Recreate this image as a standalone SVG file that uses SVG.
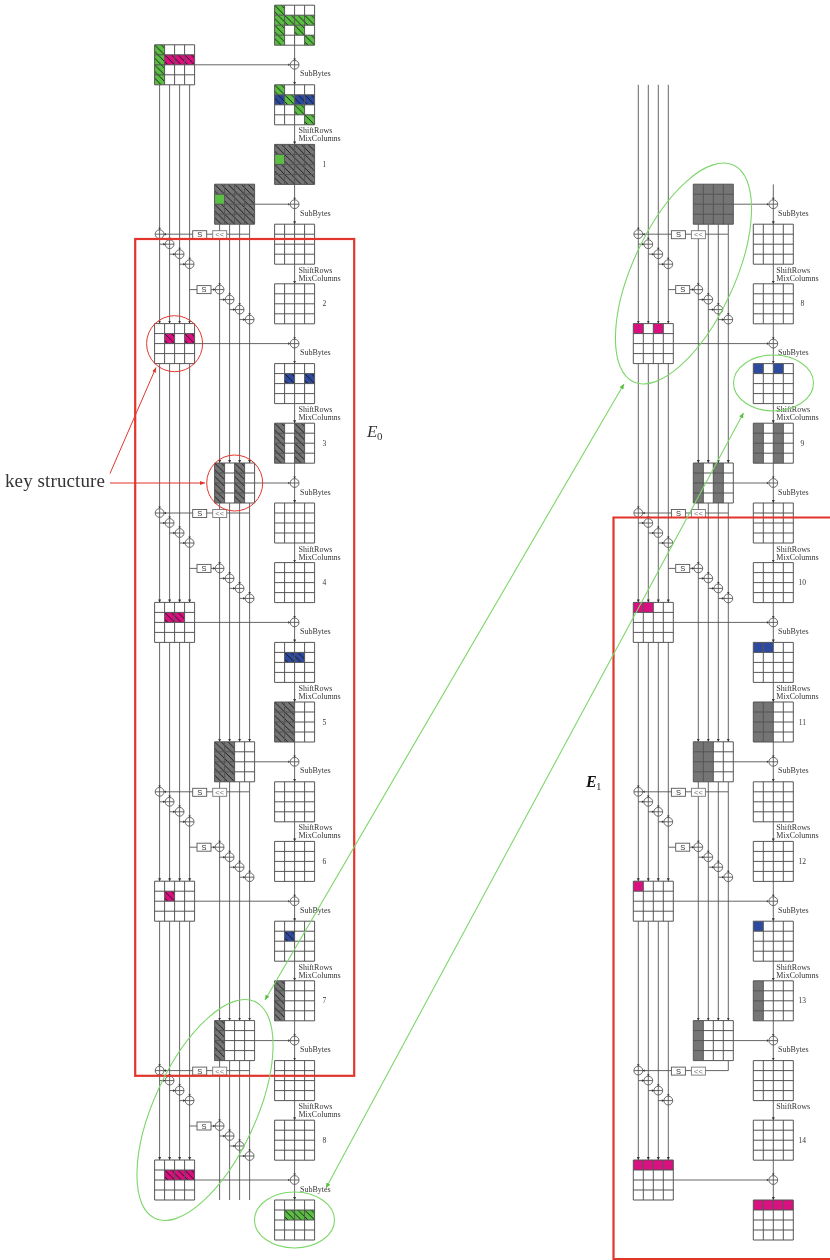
<svg xmlns="http://www.w3.org/2000/svg" width="830" height="1260" viewBox="0 0 830 1260">
<style>
text{font-family:"Liberation Serif","Times New Roman",serif;fill:#333}
.l{font-size:8px}
.n{font-size:7.5px;text-anchor:middle}
.s{font-family:"Liberation Sans",Arial,sans-serif;font-size:7.5px;text-anchor:middle}
.g{font-family:"Liberation Sans",Arial,sans-serif;font-size:7.5px;text-anchor:middle;fill:#777}
.w{fill:none;stroke:#555;stroke-width:.9}
.a{fill:none;stroke:#555;stroke-width:.9;marker-end:url(#ah)}
.ln{fill:none;stroke:#555;stroke-width:1}
.bg{fill:#fff}
rect.c{width:10px;height:10px}
.gh{fill:url(#hg)}.mh{fill:url(#hm)}.bh{fill:url(#hb)}.kh{fill:url(#hk)}
.gp{fill:#5cbd45}.mp{fill:#d9107f}.bp{fill:#2e4a9e}.kp{fill:#757575}
.rd{fill:none;stroke:#e2352b}
.gn{fill:none;stroke:#7dd66a;stroke-width:1.1}
.box{fill:#fff;stroke:#555;stroke-width:.9}
.box2{fill:#fff;stroke:#777;stroke-width:.9}
#labels,#ksall{opacity:.99}
</style>
<defs>
<marker id="ah" markerUnits="userSpaceOnUse" markerWidth="4" markerHeight="4" refX="3" refY="2" orient="auto"><path d="M0 .5L3 2L0 3.5z" fill="#333"/></marker>
<marker id="ar" markerUnits="userSpaceOnUse" markerWidth="6" markerHeight="6" refX="5" refY="3" orient="auto-start-reverse"><path d="M0 1L5 3L0 5z" fill="#e2352b"/></marker>
<marker id="ag" markerUnits="userSpaceOnUse" markerWidth="6" markerHeight="6" refX="5" refY="3" orient="auto-start-reverse"><path d="M0 .8L5 3L0 5.2z" fill="#5cbd45"/></marker>
<pattern id="hg" patternUnits="userSpaceOnUse" width="6.667" height="6.667"><rect width="6.667" height="6.667" fill="#5cbd45"/><path d="M-1 -1L7.667 7.667" stroke="#111" stroke-width=".9"/></pattern>
<pattern id="hm" patternUnits="userSpaceOnUse" width="6.667" height="6.667"><rect width="6.667" height="6.667" fill="#d9107f"/><path d="M-1 -1L7.667 7.667" stroke="#111" stroke-width=".9"/></pattern>
<pattern id="hb" patternUnits="userSpaceOnUse" width="6.667" height="6.667"><rect width="6.667" height="6.667" fill="#2e4a9e"/><path d="M-1 -1L7.667 7.667" stroke="#111" stroke-width=".9"/></pattern>
<pattern id="hk" patternUnits="userSpaceOnUse" width="6.667" height="6.667"><rect width="6.667" height="6.667" fill="#757575"/><path d="M-1 -1L7.667 7.667" stroke="#111" stroke-width=".9"/></pattern>
<rect id="bg" class="bg" width="40" height="40"/>
<path id="grid" class="ln" d="M0 0H40V40H0ZM10 0V40M20 0V40M30 0V40M0 10H40M0 20H40M0 30H40"/>
<g id="bus"><path class="a" d="M5 0V238.8"/><path class="a" d="M15 0V238.8"/><path class="a" d="M25 0V238.8"/><path class="a" d="M35 0V238.8"/></g>
<g id="xl"><circle r="4.4" fill="#fff" stroke="#444" stroke-width=".8"/><path class="w" d="M-4.4 0H4.4M0 -4.4V4.4"/><path d="M-1.3 -6.4L1.3 -6.4L0 -4.4zM-6.4 -1.3L-6.4 1.3L-4.4 0z" fill="#333"/></g>
<g id="xr"><circle r="4.4" fill="#fff" stroke="#444" stroke-width=".8"/><path class="w" d="M-4.4 0H4.4M0 -4.4V4.4"/><path d="M-1.3 -6.4L1.3 -6.4L0 -4.4zM6.4 -1.3L6.4 1.3L4.4 0z" fill="#333"/></g>
<g id="k1w"><path class="w" d="M249.6 0H163.6M159.6 10H165.6M169.6 20H175.6M179.6 30H185.6"/></g>
<g id="k2w"><path class="w" d="M189.6 0H197M211 0H215.6M219.6 10H225.6M229.6 20H235.6M239.6 30H245.6"/></g>
<g id="k1n"><use href="#xr" x="159.6" y="0"/><use href="#xl" x="169.6" y="10"/><use href="#xl" x="179.6" y="20"/><use href="#xl" x="189.6" y="30"/><rect class="box" x="192.7" y="-3.5" width="14" height="8"/><rect class="box2" x="212.7" y="-3.5" width="14" height="8"/></g>
<g id="k2n"><use href="#xl" x="219.6" y="0"/><use href="#xl" x="229.6" y="10"/><use href="#xl" x="239.6" y="20"/><use href="#xl" x="249.6" y="30"/><rect class="box" x="197" y="-4" width="14" height="8"/></g>
</defs>
<rect width="830" height="1260" fill="#fff"/>
<g id="connectors">
<use href="#bus" x="154.6" y="84.8"/><use href="#bus" x="154.6" y="363.6"/><use href="#bus" x="154.6" y="642.4"/><use href="#bus" x="154.6" y="921.2"/>
<use href="#bus" x="214.6" y="224.2"/><use href="#bus" x="214.6" y="503"/><use href="#bus" x="214.6" y="781.8"/>
<path class="w" d="M219.6 1060.6V1200M229.6 1060.6V1200M239.6 1060.6V1200M249.6 1060.6V1200"/>
<use href="#bus" x="633.3" y="84.8"/><use href="#bus" x="633.3" y="363.6"/><use href="#bus" x="633.3" y="642.4"/><use href="#bus" x="633.3" y="921.2"/>
<use href="#bus" x="693.3" y="224.2"/><use href="#bus" x="693.3" y="503"/><use href="#bus" x="693.3" y="781.8"/>
<path class="w" d="M194.6 64.8H288.6M254.6 204.2H288.6M194.6 343.6H288.6M254.6 483H288.6M194.6 622.4H288.6M254.6 761.8H288.6M194.6 901.2H288.6M254.6 1040.6H288.6M194.6 1180H288.6"/>
<path class="w" d="M733.3 204.2H767.3M673.3 343.6H767.3M733.3 483H767.3M673.3 622.4H767.3M733.3 761.8H767.3M673.3 901.2H767.3M733.3 1040.6H767.3M673.3 1180H767.3"/>
<path class="a" d="M294.6 45.2V84.8"/><path class="a" d="M294.6 124.8V144.4"/><path class="a" d="M294.6 184.4V224.2"/><path class="a" d="M294.6 264.2V283.8"/><path class="a" d="M294.6 323.8V363.6"/><path class="a" d="M294.6 403.6V423.2"/><path class="a" d="M294.6 463.2V503"/><path class="a" d="M294.6 543V562.6"/><path class="a" d="M294.6 602.6V642.4"/><path class="a" d="M294.6 682.4V702"/><path class="a" d="M294.6 742V781.8"/><path class="a" d="M294.6 821.8V841.4"/><path class="a" d="M294.6 881.4V921.2"/><path class="a" d="M294.6 961.2V980.8"/><path class="a" d="M294.6 1020.8V1060.6"/><path class="a" d="M294.6 1100.6V1120.2"/><path class="a" d="M294.6 1160.2V1200"/>
<path class="a" d="M773.3 184.4V224.2"/><path class="a" d="M773.3 264.2V283.8"/><path class="a" d="M773.3 323.8V363.6"/><path class="a" d="M773.3 403.6V423.2"/><path class="a" d="M773.3 463.2V503"/><path class="a" d="M773.3 543V562.6"/><path class="a" d="M773.3 602.6V642.4"/><path class="a" d="M773.3 682.4V702"/><path class="a" d="M773.3 742V781.8"/><path class="a" d="M773.3 821.8V841.4"/><path class="a" d="M773.3 881.4V921.2"/><path class="a" d="M773.3 961.2V980.8"/><path class="a" d="M773.3 1020.8V1060.6"/><path class="a" d="M773.3 1100.6V1120.2"/><path class="a" d="M773.3 1160.2V1200"/>
<use href="#k1w" y="234.2"/><use href="#k1w" y="513"/><use href="#k1w" y="791.8"/><use href="#k1w" y="1070.6"/>
<use href="#k2w" y="289.6"/><use href="#k2w" y="568.4"/><use href="#k2w" y="847.2"/><use href="#k2w" y="1126"/>
<use href="#k1w" x="478.7" y="234.2"/><use href="#k1w" x="478.7" y="513"/><use href="#k1w" x="478.7" y="791.8"/>
<path class="w" d="M728.3 1060.6V1070.6H642.3M638.3 1080.6H644.3M648.3 1090.6H654.3M658.3 1100.6H664.3"/>
<use href="#k2w" x="478.7" y="289.6"/><use href="#k2w" x="478.7" y="568.4"/><use href="#k2w" x="478.7" y="847.2"/>
</g>

<g id="P0" transform="translate(274.6,5.2)"><use href="#bg"/><rect class="c gh" y="0"/><rect class="c gh" y="10"/><rect class="c gh" x="10" y="10"/><rect class="c gh" x="20" y="10"/><rect class="c gh" x="30" y="10"/><rect class="c gh" y="20"/><rect class="c gh" x="20" y="20"/><rect class="c gh" y="30"/><rect class="c gh" x="30" y="30"/><use href="#grid"/></g>
<g id="K0" transform="translate(154.6,44.8)"><use href="#bg"/><rect class="gh" width="10" height="40"/><rect class="mh" x="10" y="10" width="30" height="10"/><use href="#grid"/></g>
<g id="S1" transform="translate(274.6,84.8)"><use href="#bg"/><rect class="c gh"/><rect class="c bh" y="10"/><rect class="c gh" x="10" y="10"/><rect class="bh" x="20" y="10" width="20" height="10"/><rect class="c gh" x="20" y="20"/><rect class="c gh" x="30" y="30"/><use href="#grid"/></g>
<g id="M1" transform="translate(274.6,144.4)"><rect class="kh" width="40" height="40"/><rect class="c gp" y="10"/><use href="#grid"/></g>
<g id="K1" transform="translate(214.6,184.2)"><rect class="kh" width="40" height="40"/><rect class="c gp" y="10"/><use href="#grid"/></g>
<g id="S2" transform="translate(274.6,224.2)"><use href="#bg"/><use href="#grid"/></g>
<g id="M2" transform="translate(274.6,283.8)"><use href="#bg"/><use href="#grid"/></g>
<g id="K2" transform="translate(154.6,323.6)"><use href="#bg"/><rect class="c mh" x="10" y="10"/><rect class="c mh" x="30" y="10"/><use href="#grid"/></g>
<g id="S3" transform="translate(274.6,363.6)"><use href="#bg"/><rect class="c bh" x="10" y="10"/><rect class="c bh" x="30" y="10"/><use href="#grid"/></g>
<g id="M3" transform="translate(274.6,423.2)"><use href="#bg"/><rect class="kh" width="10" height="40"/><rect class="kh" x="20" width="10" height="40"/><use href="#grid"/></g>
<g id="K3" transform="translate(214.6,463)"><use href="#bg"/><rect class="kh" width="10" height="40"/><rect class="kh" x="20" width="10" height="40"/><use href="#grid"/></g>
<g id="S4" transform="translate(274.6,503)"><use href="#bg"/><use href="#grid"/></g>
<g id="M4" transform="translate(274.6,562.6)"><use href="#bg"/><use href="#grid"/></g>
<g id="K4" transform="translate(154.6,602.4)"><use href="#bg"/><rect class="mh" x="10" y="10" width="20" height="10"/><use href="#grid"/></g>
<g id="S5" transform="translate(274.6,642.4)"><use href="#bg"/><rect class="bh" x="10" y="10" width="20" height="10"/><use href="#grid"/></g>
<g id="M5" transform="translate(274.6,702)"><use href="#bg"/><rect class="kh" width="20" height="40"/><use href="#grid"/></g>
<g id="K5" transform="translate(214.6,741.8)"><use href="#bg"/><rect class="kh" width="20" height="40"/><use href="#grid"/></g>
<g id="S6" transform="translate(274.6,781.8)"><use href="#bg"/><use href="#grid"/></g>
<g id="M6" transform="translate(274.6,841.4)"><use href="#bg"/><use href="#grid"/></g>
<g id="K6" transform="translate(154.6,881.2)"><use href="#bg"/><rect class="c mh" x="10" y="10"/><use href="#grid"/></g>
<g id="S7" transform="translate(274.6,921.2)"><use href="#bg"/><rect class="c bh" x="10" y="10"/><use href="#grid"/></g>
<g id="M7" transform="translate(274.6,980.8)"><use href="#bg"/><rect class="kh" width="10" height="40"/><use href="#grid"/></g>
<g id="K7" transform="translate(214.6,1020.6)"><use href="#bg"/><rect class="kh" width="10" height="40"/><use href="#grid"/></g>
<g id="S8" transform="translate(274.6,1060.6)"><use href="#bg"/><use href="#grid"/></g>
<g id="M8" transform="translate(274.6,1120.2)"><use href="#bg"/><use href="#grid"/></g>
<g id="K8" transform="translate(154.6,1160)"><use href="#bg"/><rect class="mh" x="10" y="10" width="30" height="10"/><use href="#grid"/></g>
<g id="S9" transform="translate(274.6,1200)"><use href="#bg"/><rect class="gh" x="10" y="10" width="30" height="10"/><use href="#grid"/></g>

<g id="K1b" transform="translate(693.3,184.2)"><rect class="kp" width="40" height="40"/><use href="#grid"/></g>
<g id="S2b" transform="translate(753.3,224.2)"><use href="#bg"/><use href="#grid"/></g>
<g id="M2b" transform="translate(753.3,283.8)"><use href="#bg"/><use href="#grid"/></g>
<g id="K2b" transform="translate(633.3,323.6)"><use href="#bg"/><rect class="c mp"/><rect class="c mp" x="20"/><use href="#grid"/></g>
<g id="S3b" transform="translate(753.3,363.6)"><use href="#bg"/><rect class="c bp"/><rect class="c bp" x="20"/><use href="#grid"/></g>
<g id="M3b" transform="translate(753.3,423.2)"><use href="#bg"/><rect class="kp" width="10" height="40"/><rect class="kp" x="20" width="10" height="40"/><use href="#grid"/></g>
<g id="K3b" transform="translate(693.3,463)"><use href="#bg"/><rect class="kp" width="10" height="40"/><rect class="kp" x="20" width="10" height="40"/><use href="#grid"/></g>
<g id="S4b" transform="translate(753.3,503)"><use href="#bg"/><use href="#grid"/></g>
<g id="M4b" transform="translate(753.3,562.6)"><use href="#bg"/><use href="#grid"/></g>
<g id="K4b" transform="translate(633.3,602.4)"><use href="#bg"/><rect class="mp" width="20" height="10"/><use href="#grid"/></g>
<g id="S5b" transform="translate(753.3,642.4)"><use href="#bg"/><rect class="bp" width="20" height="10"/><use href="#grid"/></g>
<g id="M5b" transform="translate(753.3,702)"><use href="#bg"/><rect class="kp" width="20" height="40"/><use href="#grid"/></g>
<g id="K5b" transform="translate(693.3,741.8)"><use href="#bg"/><rect class="kp" width="20" height="40"/><use href="#grid"/></g>
<g id="S6b" transform="translate(753.3,781.8)"><use href="#bg"/><use href="#grid"/></g>
<g id="M6b" transform="translate(753.3,841.4)"><use href="#bg"/><use href="#grid"/></g>
<g id="K6b" transform="translate(633.3,881.2)"><use href="#bg"/><rect class="c mp"/><use href="#grid"/></g>
<g id="S7b" transform="translate(753.3,921.2)"><use href="#bg"/><rect class="c bp"/><use href="#grid"/></g>
<g id="M7b" transform="translate(753.3,980.8)"><use href="#bg"/><rect class="kp" width="10" height="40"/><use href="#grid"/></g>
<g id="K7b" transform="translate(693.3,1020.6)"><use href="#bg"/><rect class="kp" width="10" height="40"/><use href="#grid"/></g>
<g id="S8b" transform="translate(753.3,1060.6)"><use href="#bg"/><use href="#grid"/></g>
<g id="M8b" transform="translate(753.3,1120.2)"><use href="#bg"/><use href="#grid"/></g>
<g id="K8b" transform="translate(633.3,1160)"><use href="#bg"/><rect class="mp" width="40" height="10"/><use href="#grid"/></g>
<g id="S9b" transform="translate(753.3,1200)"><use href="#bg"/><rect class="mp" width="40" height="10"/><use href="#grid"/></g>

<g id="xors">
<use href="#xl" x="294.6" y="64.8"/><use href="#xl" x="294.6" y="204.2"/><use href="#xl" x="294.6" y="343.6"/><use href="#xl" x="294.6" y="483"/><use href="#xl" x="294.6" y="622.4"/><use href="#xl" x="294.6" y="761.8"/><use href="#xl" x="294.6" y="901.2"/><use href="#xl" x="294.6" y="1040.6"/><use href="#xl" x="294.6" y="1180"/>
<use href="#xl" x="773.3" y="204.2"/><use href="#xl" x="773.3" y="343.6"/><use href="#xl" x="773.3" y="483"/><use href="#xl" x="773.3" y="622.4"/><use href="#xl" x="773.3" y="761.8"/><use href="#xl" x="773.3" y="901.2"/><use href="#xl" x="773.3" y="1040.6"/><use href="#xl" x="773.3" y="1180"/>
</g>

<g id="ksall">
<g id="ks1" transform="translate(0,234.2)"><use href="#k1n"/><text class="s" x="199.7" y="3.2">S</text><text class="g" x="219.7" y="3">&lt;&lt;</text></g>
<g id="ks2" transform="translate(0,289.6)"><use href="#k2n"/><text class="s" x="204" y="2.7">S</text></g>
<g id="ks3" transform="translate(0,513)"><use href="#k1n"/><text class="s" x="199.7" y="3.2">S</text><text class="g" x="219.7" y="3">&lt;&lt;</text></g>
<g id="ks4" transform="translate(0,568.4)"><use href="#k2n"/><text class="s" x="204" y="2.7">S</text></g>
<g id="ks5" transform="translate(0,791.8)"><use href="#k1n"/><text class="s" x="199.7" y="3.2">S</text><text class="g" x="219.7" y="3">&lt;&lt;</text></g>
<g id="ks6" transform="translate(0,847.2)"><use href="#k2n"/><text class="s" x="204" y="2.7">S</text></g>
<g id="ks7" transform="translate(0,1070.6)"><use href="#k1n"/><text class="s" x="199.7" y="3.2">S</text><text class="g" x="219.7" y="3">&lt;&lt;</text></g>
<g id="ks8" transform="translate(0,1126)"><use href="#k2n"/><text class="s" x="204" y="2.7">S</text></g>
<g id="ks1b" transform="translate(478.7,234.2)"><use href="#k1n"/><text class="s" x="199.7" y="3.2">S</text><text class="g" x="219.7" y="3">&lt;&lt;</text></g>
<g id="ks2b" transform="translate(478.7,289.6)"><use href="#k2n"/><text class="s" x="204" y="2.7">S</text></g>
<g id="ks3b" transform="translate(478.7,513)"><use href="#k1n"/><text class="s" x="199.7" y="3.2">S</text><text class="g" x="219.7" y="3">&lt;&lt;</text></g>
<g id="ks4b" transform="translate(478.7,568.4)"><use href="#k2n"/><text class="s" x="204" y="2.7">S</text></g>
<g id="ks5b" transform="translate(478.7,791.8)"><use href="#k1n"/><text class="s" x="199.7" y="3.2">S</text><text class="g" x="219.7" y="3">&lt;&lt;</text></g>
<g id="ks6b" transform="translate(478.7,847.2)"><use href="#k2n"/><text class="s" x="204" y="2.7">S</text></g>
<g id="ks7b" transform="translate(478.7,1070.6)"><use href="#k1n"/><text class="s" x="199.7" y="3.2">S</text><text class="g" x="219.7" y="3">&lt;&lt;</text></g>
</g>

<g id="labels">
<text class="l" x="300" y="76.3">SubBytes</text><text class="l" x="300" y="215.7">SubBytes</text><text class="l" x="300" y="355.1">SubBytes</text><text class="l" x="300" y="494.5">SubBytes</text><text class="l" x="300" y="633.9">SubBytes</text><text class="l" x="300" y="773.3">SubBytes</text><text class="l" x="300" y="912.7">SubBytes</text><text class="l" x="300" y="1052.1">SubBytes</text><text class="l" x="300" y="1191.5">SubBytes</text>
<text class="l" x="298.5" y="133.4">ShiftRows</text><text class="l" x="298.5" y="141.4">MixColumns</text>
<text class="l" x="298.5" y="272.8">ShiftRows</text><text class="l" x="298.5" y="280.8">MixColumns</text>
<text class="l" x="298.5" y="412.2">ShiftRows</text><text class="l" x="298.5" y="420.2">MixColumns</text>
<text class="l" x="298.5" y="551.6">ShiftRows</text><text class="l" x="298.5" y="559.6">MixColumns</text>
<text class="l" x="298.5" y="691">ShiftRows</text><text class="l" x="298.5" y="699">MixColumns</text>
<text class="l" x="298.5" y="830.4">ShiftRows</text><text class="l" x="298.5" y="838.4">MixColumns</text>
<text class="l" x="298.5" y="969.8">ShiftRows</text><text class="l" x="298.5" y="977.8">MixColumns</text>
<text class="l" x="298.5" y="1109.2">ShiftRows</text><text class="l" x="298.5" y="1117.2">MixColumns</text>
<text class="n" x="324.3" y="167">1</text><text class="n" x="324.3" y="306.4">2</text><text class="n" x="324.3" y="445.8">3</text><text class="n" x="324.3" y="585.2">4</text><text class="n" x="324.3" y="724.6">5</text><text class="n" x="324.3" y="864">6</text><text class="n" x="324.3" y="1003.4">7</text><text class="n" x="324.3" y="1142.8">8</text>
<text class="l" x="778" y="215.7">SubBytes</text><text class="l" x="778" y="355.1">SubBytes</text><text class="l" x="778" y="494.5">SubBytes</text><text class="l" x="778" y="633.9">SubBytes</text><text class="l" x="778" y="773.3">SubBytes</text><text class="l" x="778" y="912.7">SubBytes</text><text class="l" x="778" y="1052.1">SubBytes</text>
<text class="l" x="776.3" y="272.8">ShiftRows</text><text class="l" x="776.3" y="280.8">MixColumns</text>
<text class="l" x="776.3" y="412.2">ShiftRows</text><text class="l" x="776.3" y="420.2">MixColumns</text>
<text class="l" x="776.3" y="551.6">ShiftRows</text><text class="l" x="776.3" y="559.6">MixColumns</text>
<text class="l" x="776.3" y="691">ShiftRows</text><text class="l" x="776.3" y="699">MixColumns</text>
<text class="l" x="776.3" y="830.4">ShiftRows</text><text class="l" x="776.3" y="838.4">MixColumns</text>
<text class="l" x="776.3" y="969.8">ShiftRows</text><text class="l" x="776.3" y="977.8">MixColumns</text>
<text class="l" x="776.3" y="1109.2">ShiftRows</text>
<text class="n" x="802.3" y="306.4">8</text><text class="n" x="802.3" y="445.8">9</text><text class="n" x="802.3" y="585.2">10</text><text class="n" x="802.3" y="724.6">11</text><text class="n" x="802.3" y="864">12</text><text class="n" x="802.3" y="1003.4">13</text><text class="n" x="802.3" y="1142.8">14</text>
<text x="5" y="487" font-size="19" letter-spacing=".1">key structure</text>
<text x="367" y="437" font-size="17" font-style="italic">E</text><text x="377" y="440" font-size="11">0</text>
<text x="586" y="787" font-size="16" font-style="italic" font-weight="bold" style="fill:#111">E</text><text x="596" y="790" font-size="11">1</text>
</g>

<g id="annotations">
<rect class="rd" x="135.2" y="239" width="219" height="836.8" stroke-width="2.2"/>
<path class="rd" stroke-width="2.2" d="M830 517.5H613.5V1259H830"/>
<circle class="rd" cx="174.6" cy="343.7" r="28" stroke-width="1"/>
<circle class="rd" cx="234.7" cy="483" r="28" stroke-width="1"/>
<path class="rd" stroke-width="1" marker-end="url(#ar)" d="M110 473.5L156 367.5"/>
<path class="rd" stroke-width="1" marker-end="url(#ar)" d="M110 483H205"/>
<ellipse class="gn" cx="205" cy="1110" rx="119.3" ry="51" transform="rotate(-65.3 205 1110)"/>
<ellipse class="gn" cx="683.5" cy="273.5" rx="119.3" ry="51" transform="rotate(-65.3 683.5 273.5)"/>
<ellipse class="gn" cx="294.5" cy="1220" rx="40" ry="28"/>
<ellipse class="gn" cx="773.5" cy="383" rx="40" ry="28"/>
<path class="gn" marker-start="url(#ag)" marker-end="url(#ag)" d="M265 1000L624 384"/>
<path class="gn" marker-start="url(#ag)" marker-end="url(#ag)" d="M326 1188L743.5 413"/>
</g>
</svg>
